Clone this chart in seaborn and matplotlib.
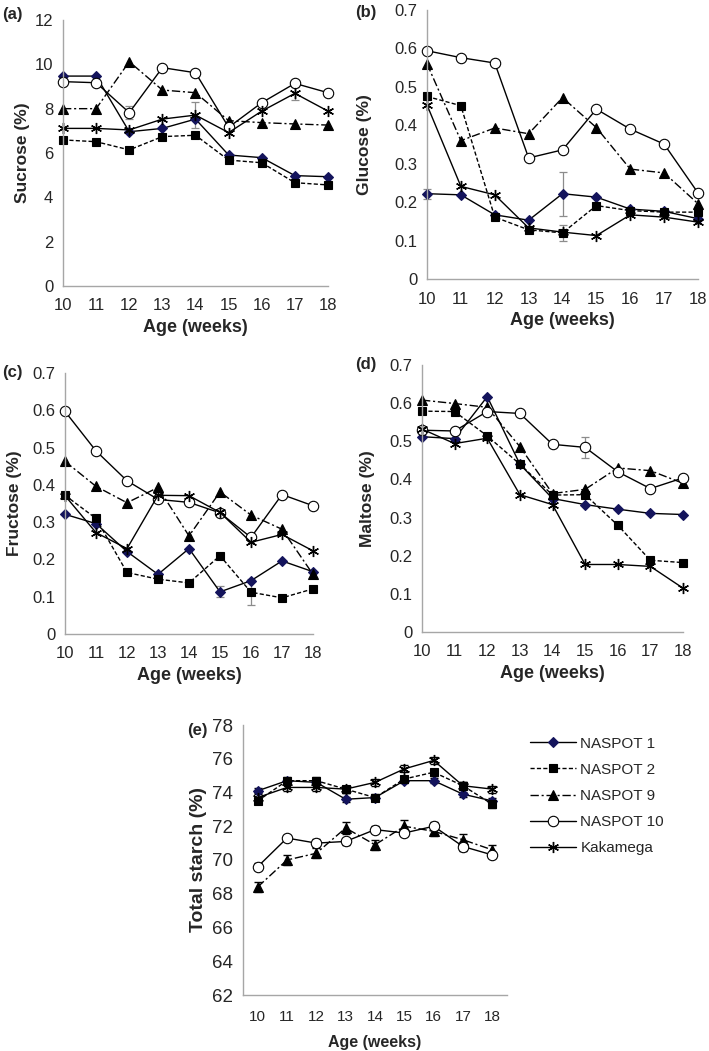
import numpy as np
import pandas as pd
import matplotlib.pyplot as plt
import seaborn as sns

sns.set_style("white")
plt.rcParams['font.family'] = ['Liberation Sans', 'DejaVu Sans']

# ---- data ----
weeks = [10, 11, 12, 13, 14, 15, 16, 17, 18]
varieties = ['NASPOT 1', 'NASPOT 2', 'NASPOT 9', 'NASPOT 10', 'Kakamega']

sucrose = {
    'NASPOT 1':  [9.47, 9.47, 6.96, 7.11, 7.53, 5.91, 5.79, 4.98, 4.93],
    'NASPOT 2':  [6.59, 6.51, 6.14, 6.74, 6.80, 5.68, 5.56, 4.66, 4.56],
    'NASPOT 9':  [8.00, 8.00, 10.12, 8.84, 8.72, 7.46, 7.37, 7.31, 7.26],
    'NASPOT 10': [9.22, 9.17, 7.82, 9.85, 9.62, 7.16, 8.27, 9.14, 8.72],
    'Kakamega':  [7.11, 7.11, 7.04, 7.53, 7.71, 6.92, 7.89, 8.69, 7.89],
}
glucose = {
    'NASPOT 1':  [0.222, 0.219, 0.167, 0.153, 0.222, 0.213, 0.182, 0.176, 0.157],
    'NASPOT 2':  [0.475, 0.451, 0.161, 0.128, 0.120, 0.191, 0.178, 0.174, 0.174],
    'NASPOT 9':  [0.560, 0.360, 0.393, 0.378, 0.472, 0.394, 0.286, 0.276, 0.196],
    'NASPOT 10': [0.594, 0.576, 0.562, 0.315, 0.336, 0.442, 0.390, 0.351, 0.224],
    'Kakamega':  [0.453, 0.241, 0.219, 0.133, 0.122, 0.113, 0.167, 0.161, 0.148],
}
fructose = {
    'NASPOT 1':  [0.321, 0.296, 0.221, 0.160, 0.229, 0.113, 0.143, 0.196, 0.167],
    'NASPOT 2':  [0.372, 0.310, 0.165, 0.147, 0.137, 0.210, 0.112, 0.097, 0.121],
    'NASPOT 9':  [0.463, 0.396, 0.352, 0.393, 0.263, 0.381, 0.319, 0.281, 0.160],
    'NASPOT 10': [0.597, 0.491, 0.411, 0.361, 0.353, 0.325, 0.259, 0.374, 0.344],
    'Kakamega':  [0.371, 0.272, 0.229, 0.372, 0.371, 0.326, 0.246, 0.267, 0.223],
}
maltose = {
    'NASPOT 1':  [0.512, 0.507, 0.617, 0.440, 0.350, 0.334, 0.322, 0.311, 0.308],
    'NASPOT 2':  [0.579, 0.578, 0.514, 0.440, 0.359, 0.360, 0.280, 0.188, 0.182],
    'NASPOT 9':  [0.608, 0.599, 0.589, 0.486, 0.363, 0.374, 0.430, 0.423, 0.390],
    'NASPOT 10': [0.529, 0.527, 0.578, 0.573, 0.492, 0.484, 0.420, 0.376, 0.404],
    'Kakamega':  [0.532, 0.494, 0.508, 0.360, 0.334, 0.177, 0.177, 0.172, 0.115],
}
starch = {
    'NASPOT 1':  [74.1, 74.7, 74.6, 73.6, 73.7, 74.7, 74.7, 73.9, 73.5],
    'NASPOT 2':  [73.5, 74.7, 74.7, 74.2, 73.7, 74.8, 75.2, 74.4, 73.3],
    'NASPOT 9':  [68.4, 70.0, 70.4, 71.9, 70.9, 72.0, 71.7, 71.2, 70.6],
    'NASPOT 10': [69.6, 71.3, 71.0, 71.1, 71.8, 71.6, 72.0, 70.8, 70.3],
    'Kakamega':  [73.7, 74.3, 74.3, 74.2, 74.6, 75.4, 75.9, 74.4, 74.2],
}

# (variety, week, +/- error) for the few visible error bars
sucrose_err = [('NASPOT 10', 12, 0.3), ('Kakamega', 14, 0.6), ('Kakamega', 17, 0.3)]
glucose_err = [('NASPOT 1', 10, 0.013), ('NASPOT 1', 14, 0.057), ('NASPOT 2', 14, 0.02)]
fructose_err = [('NASPOT 1', 15, 0.015), ('NASPOT 2', 16, 0.035)]
maltose_err = [('NASPOT 10', 15, 0.028)]
starch_err = {
    'NASPOT 1':  [0.15, 0.15, 0.15, 0.15, 0.15, 0.15, 0.15, 0.15, 0.15],
    'NASPOT 2':  [0.2, 0.2, 0.2, 0.2, 0.2, 0.2, 0.2, 0.2, 0.2],
    'NASPOT 9':  [0.3, 0.3, 0.3, 0.35, 0.3, 0.35, 0.3, 0.35, 0.3],
    'NASPOT 10': [0.2, 0.2, 0.25, 0.2, 0.2, 0.2, 0.25, 0.25, 0.2],
    'Kakamega':  [0.2, 0.2, 0.2, 0.2, 0.2, 0.2, 0.2, 0.2, 0.2],
}

sugar_ticks = [0, 0.1, 0.2, 0.3, 0.4, 0.5, 0.6, 0.7]
sugar_ticklabels = ['0', '0.1', '0.2', '0.3', '0.4', '0.5', '0.6', '0.7']
sucrose_ticks = [0, 2, 4, 6, 8, 10, 12]
starch_ticks = [62, 64, 66, 68, 70, 72, 74, 76, 78]

# ---- styles ----
navy = '#14145c'
styles = {
    'NASPOT 1':  dict(marker='D', ls='-', mfc=navy, mec=navy, ms=5, mew=0.8),
    'NASPOT 2':  dict(marker='s', ls=(0, (3, 1.6)), mfc='black', mec='black', ms=6, mew=0.8),
    'NASPOT 9':  dict(marker='^', ls=(0, (6, 2, 1.5, 2)), mfc='black', mec='black', ms=7, mew=0.8),
    'NASPOT 10': dict(marker='o', ls='-', mfc='white', mec='black', ms=7.5, mew=0.8),
    'Kakamega':  dict(marker=(6, 2, 0), ls='-', mfc='black', mec='black', ms=8, mew=1.0),
}
axis_grey = '#a6a6a6'

fig = plt.figure(figsize=(7.09, 10.51), dpi=100)
ax_a = fig.add_axes([63/709, 1-286/1051, 265/709, 266/1051])
ax_b = fig.add_axes([427/709, 1-279/1051, 271/709, 269/1051])
ax_c = fig.add_axes([65/709, 1-634/1051, 248/709, 261/1051])
ax_d = fig.add_axes([422/709, 1-632/1051, 261/709, 267/1051])
ax_e = fig.add_axes([243/709, 1-995/1051, 264/709, 270/1051])


def style_axes(ax):
    sns.despine(ax=ax)
    for s in ['left', 'bottom']:
        ax.spines[s].set_color(axis_grey)
        ax.spines[s].set_linewidth(1)
    ax.tick_params(axis='both', which='major', direction='out', length=4,
                   width=1, color=axis_grey, labelsize=12, pad=3)


def draw_panel(ax, data, errs, ylim, yticks, yticklabels, ylabel, ylab_x):
    df = pd.DataFrame(data)
    df['week'] = weeks
    handles = []
    for v in varieties:
        sns.lineplot(data=df, x='week', y=v, ax=ax, color='black', lw=1,
                     clip_on=False, label=v, legend=False, errorbar=None,
                     **styles[v])
        handles.append(ax.lines[-1])
    for v, wk, e in errs:
        ax.errorbar(wk, df.loc[df.week == wk, v].iloc[0], yerr=e, fmt='none',
                    ecolor='#8c8c8c', elinewidth=0.9, capsize=3, capthick=0.9,
                    zorder=1, clip_on=False)
    ax.set_xlim(10, 18)
    ax.set_ylim(*ylim)
    ax.set_xticks(weeks)
    ax.set_yticks(yticks)
    ax.set_yticklabels(yticklabels)
    ax.set_xlabel('Age (weeks)', fontsize=13, fontweight='bold')
    ax.set_ylabel(ylabel, fontsize=12.5, fontweight='bold')
    style_axes(ax)
    ax.tick_params(axis='x', pad=5)
    ax.yaxis.set_label_coords(ylab_x, 0.5)
    return handles


draw_panel(ax_a, sucrose, sucrose_err, (0, 12), sucrose_ticks,
           [str(t) for t in sucrose_ticks], 'Sucrose (%)', -0.125)
draw_panel(ax_b, glucose, glucose_err, (0, 0.7), sugar_ticks,
           sugar_ticklabels, 'Glucose (%)', -0.203)
draw_panel(ax_c, fructose, fructose_err, (0, 0.7), sugar_ticks,
           sugar_ticklabels, 'Fructose (%)', -0.173)
draw_panel(ax_d, maltose, maltose_err, (0, 0.7), sugar_ticks,
           sugar_ticklabels, 'Maltose (%)', -0.180)

# panel (e) - categorical-looking x axis
df_e = pd.DataFrame(starch)
df_e['week'] = weeks
leg_handles = []
for v in varieties:
    ax_e.errorbar(df_e['week'], df_e[v], yerr=starch_err[v], fmt='none',
                  ecolor='black', elinewidth=0.9, capsize=3, capthick=1,
                  zorder=1)
    sns.lineplot(data=df_e, x='week', y=v, ax=ax_e, color='black', lw=1,
                 label=v, legend=False, errorbar=None, **styles[v])
    leg_handles.append(ax_e.lines[-1])
ax_e.set_xlim(9.5, 18.5)
ax_e.set_ylim(62, 78)
ax_e.set_yticks(starch_ticks)
ax_e.set_xticks(np.arange(9.5, 19, 1))
ax_e.set_xticklabels([])
ax_e.set_xticks(weeks, minor=True)
ax_e.set_xticklabels([str(w) for w in weeks], minor=True)
ax_e.set_xlabel('Age (weeks)', fontsize=11.5, fontweight='bold', labelpad=8)
ax_e.set_ylabel('Total starch (%)', fontsize=14, fontweight='bold')
style_axes(ax_e)
ax_e.tick_params(axis='y', labelsize=13.5)
ax_e.tick_params(axis='x', which='minor', length=0, labelsize=11, pad=11)

fig.legend(leg_handles, varieties, loc='center left',
           bbox_to_anchor=(530/709, 1-796/1051), frameon=False, fontsize=11,
           handlelength=3.0, handletextpad=0.3, labelspacing=0.8,
           borderpad=0, borderaxespad=0)

for txt, x, y in [('(a)', 2, 15), ('(b)', 355, 13), ('(c)', 2, 373),
                  ('(d)', 355, 364), ('(e)', 187, 731)]:
    fig.text(x/709, 1-y/1051, txt, fontsize=12, fontweight='bold',
             ha='left', va='center')

fig.savefig('out.png', dpi=100)
